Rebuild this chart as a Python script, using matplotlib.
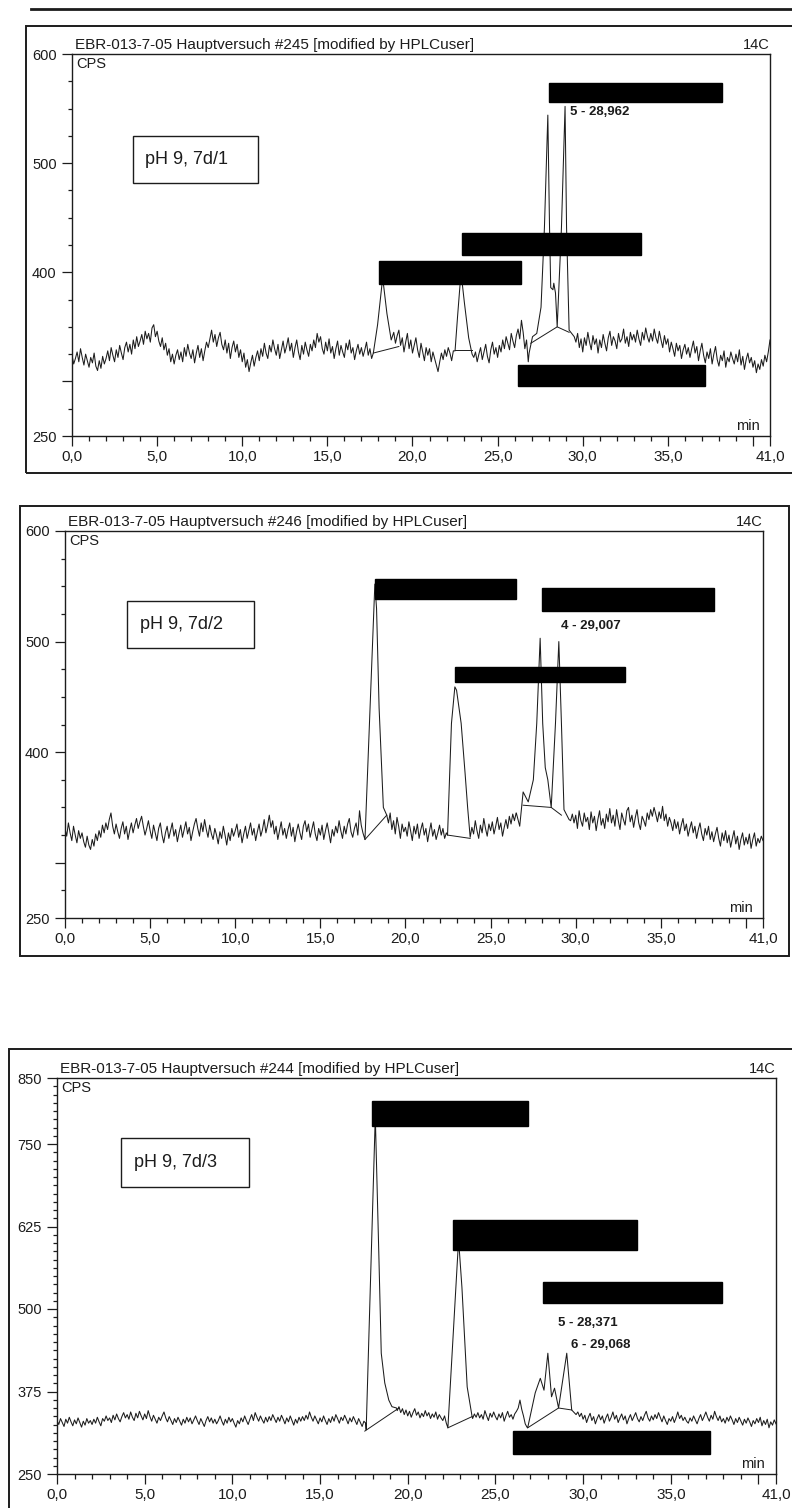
import numpy as np
import matplotlib.pyplot as plt
from matplotlib.patches import Rectangle
from matplotlib.lines import Line2D
from matplotlib.ticker import MultipleLocator, FixedLocator, FixedFormatter

plt.rcParams['font.family'] = ['Liberation Sans', 'DejaVu Sans']

W, H = 792, 1508
INK = '#1c1c1c'

# sampling grid of the radio detector trace (min), one row of values per minute
t_grid = np.round(np.arange(0, 41.001, 0.1), 1)

# ---- run #245, pH 9, 7d/1 ----
noise_245 = [
    324, 316, 321, 327, 318, 330, 322, 315, 325, 319,
    313, 322, 317, 326, 314, 310, 319, 312, 323, 316,
    321, 328, 319, 331, 324, 318, 329, 322, 333, 326,
    320, 331, 336, 327, 334, 325, 338, 330, 341, 332,
    337, 343, 334, 346, 339, 344, 336, 349, 352, 341,
    346, 337, 332, 340, 329, 335, 324, 330, 318, 325,
    316, 324, 329, 320, 327, 318, 331, 323, 334, 326,
    321, 329, 317, 326, 333, 322, 330, 319, 328, 336,
    331, 339, 347, 336, 343, 332, 340, 345, 334, 329,
    338, 326, 335, 321, 331, 337, 327, 334, 322, 329,
    318, 326, 313, 320, 309, 317, 324, 314, 322, 328,
    319, 330, 323, 335, 326, 321, 333, 327, 338, 330,
    324, 334, 321, 329, 337, 326, 332, 340, 328, 335,
    322, 331, 338, 327, 320, 333, 325, 336, 329, 323,
    334, 328, 338, 331, 344, 336, 341, 330, 325, 336,
    328, 339, 326, 332, 321, 330, 337, 324, 333, 327,
    322, 335, 329, 338, 326, 331, 320, 328, 334, 325,
    331, 323, 329, 336, 324, 330, 321, 327, 326, 330,
    340, 355, 370, 390, 380, 360, 345, 335, 338, 340,
    335, 342, 347, 333, 340, 327, 336, 344, 330, 338,
    326, 333, 340, 329, 322, 335, 327, 319, 331, 324,
    330, 318, 327, 321, 315, 309, 318, 326, 320, 329,
    323, 331, 326, 319, 328, 332, 340, 380, 390, 350,
    340, 330, 335, 330, 328, 322, 322, 327, 318, 325,
    331, 320, 327, 334, 323, 317, 329, 336, 325, 331,
    322, 333, 327, 338, 330, 341, 335, 329, 344, 337,
    331, 342, 348, 339, 356, 345, 330, 338, 318, 330,
    340, 345, 350, 360, 380, 440, 540, 440, 390, 385,
    385, 390, 380, 350, 420, 550, 440, 350, 345, 340,
    350, 345, 340, 338, 335, 341, 336, 344, 331, 339,
    327, 340, 333, 345, 336, 329, 342, 334, 339, 326,
    338, 331, 343, 335, 328, 340, 346, 333, 341, 337,
    330, 344, 336, 339, 348, 335, 341, 332, 345, 338,
    343, 336, 347, 339, 333, 345, 338, 349, 341, 336,
    344, 337, 348, 340, 335, 346, 338, 331, 342, 334,
    339, 327, 336, 330, 323, 335, 328, 333, 321, 329,
    334, 325, 331, 322, 330, 337, 326, 332, 319, 328,
    335, 324, 317, 327, 321, 330, 316, 325, 332, 320,
    314, 324, 319, 328, 313, 322, 318, 327, 321, 316,
    325, 318, 329, 315, 323, 311, 320, 326, 317, 322,
    313, 319, 308, 316, 311, 320, 314, 324, 318, 327,
    338,
]
peaks_245 = [
    ([17.7, 17.95, 18.25, 18.5, 18.75, 18.9], [326, 352, 395, 362, 338, 345]),
    ([22.5, 22.65, 22.85, 23.05, 23.3, 23.5], [328, 360, 400, 372, 340, 325]),
    ([26.85, 27.05, 27.3, 27.55, 27.75, 27.95, 28.05, 28.12, 28.25, 28.3,
      28.4, 28.5, 28.75, 28.962, 29.05, 29.2, 29.5],
     [326, 341, 344, 368, 441, 544, 441, 386, 384, 390,
      381, 350, 441, 552, 441, 347, 341]),
]
base_245 = [([17.7, 19.2], [326, 332]), ([22.5, 23.5], [329, 329]),
            ([26.95, 28.5, 29.2], [335, 350, 345])]
black_245 = [(28.0, 38.2, 556, 573), (22.9, 33.4, 416, 436),
             (18.05, 26.4, 389, 410), (26.2, 37.2, 296, 315)]
marks_245 = [(29.25, 547, '5 - 28,962')]

# ---- run #246, pH 9, 7d/2 ----
noise_246 = [
    331, 324, 336, 327, 320, 333, 325, 318, 329, 322,
    327, 319, 314, 324, 316, 312, 321, 315, 326, 320,
    329, 323, 334, 327, 336, 330, 339, 345, 333, 326,
    335, 328, 322, 331, 337, 326, 333, 321, 329, 336,
    327, 334, 340, 331, 337, 342, 333, 325, 331, 338,
    329, 322, 334, 327, 320, 331, 336, 325, 318, 327,
    333, 322, 329, 336, 324, 330, 319, 327, 334, 323,
    330, 337, 326, 332, 320, 328, 335, 340, 331, 324,
    336, 328, 339, 330, 323, 334, 326, 321, 331, 325,
    317, 328, 322, 333, 325, 316, 327, 320, 331, 324,
    329, 335, 323, 330, 318, 326, 333, 322, 329, 336,
    325, 331, 320, 328, 335, 324, 330, 339, 327, 334,
    343, 332, 338, 326, 333, 321, 329, 337, 325, 331,
    322, 330, 336, 324, 332, 319, 328, 335, 327, 321,
    333, 338, 328, 335, 323, 330, 337, 326, 320, 331,
    325, 334, 321, 329, 336, 327, 318, 330, 324, 333,
    327, 338, 329, 322, 333, 326, 335, 340, 328, 323,
    331, 336, 325, 347, 334, 327, 322, 330, 340, 350,
    400, 450, 550, 520, 440, 400, 360, 350, 345, 343,
    336, 345, 330, 338, 326, 341, 333, 322, 335, 328,
    332, 324, 337, 329, 320, 333, 326, 335, 322, 330,
    336, 325, 331, 319, 328, 336, 324, 330, 321, 327,
    334, 325, 331, 322, 327, 340, 400, 450, 459, 456,
    440, 426, 410, 381, 370, 360, 350, 340, 323, 332,
    326, 338, 329, 322, 334, 327, 340, 331, 324, 335,
    329, 337, 326, 333, 341, 330, 336, 324, 332, 339,
    331, 342, 335, 344, 338, 345, 333, 364, 355, 375,
    380, 400, 426, 460, 503, 460, 426, 400, 386, 380,
    375, 360, 350, 380, 426, 460, 500, 460, 426, 400,
    380, 360, 348, 343, 340, 339, 341, 338, 344, 336,
    343, 331, 347, 338, 333, 345, 337, 341, 330, 346,
    336, 342, 329, 339, 347, 334, 340, 331, 344, 337,
    349, 336, 343, 333, 348, 338, 330, 345, 339, 334,
    347, 350, 337, 343, 332, 341, 348, 336, 330, 342,
    338, 333, 345, 339, 348, 342, 350, 344, 337, 346,
    340, 351, 338, 344, 333, 341, 336, 329, 339, 331,
    337, 326, 334, 340, 329, 335, 324, 331, 337, 327,
    333, 322, 330, 336, 326, 320, 331, 325, 333, 321,
    328, 319, 326, 332, 322, 315, 327, 320, 329, 318,
    325, 314, 322, 329, 317, 324, 312, 321, 327, 316,
    323, 317, 326, 313, 321, 327, 315, 322, 318, 324,
    320,
]
peaks_246 = [
    ([17.62, 18.2, 18.3, 18.45, 18.7, 18.9], [321, 552, 530, 440, 350, 343]),
    ([22.47, 22.7, 22.9, 23.0, 23.27, 23.5, 23.65, 23.8],
     [325, 426, 459, 456, 426, 381, 350, 323]),
    ([26.51, 26.71, 26.91, 27.21, 27.51, 27.71, 27.91, 28.06, 28.21, 28.36,
      28.56, 28.81, 29.007, 29.16, 29.31, 29.61],
     [345, 333, 364, 355, 375, 426, 503, 426, 386, 375,
      350, 426, 500, 426, 348, 339]),
]
base_246 = [([17.62, 18.9], [321, 343]), ([22.47, 23.8], [325, 322]),
            ([26.91, 28.56, 29.16], [352, 350, 343])]
black_246 = [(18.2, 26.5, 538.5, 557), (28.0, 38.1, 528, 548.5),
             (22.9, 32.9, 463, 477)]
marks_246 = [(29.15, 514, '4 - 29,007')]

# ---- run #244, pH 9, 7d/3 ----
noise_244 = [
    331, 325, 334, 328, 322, 333, 327, 336, 329, 323,
    332, 326, 335, 328, 321, 330, 324, 334, 327, 331,
    325, 333, 327, 336, 329, 323, 334, 330, 338, 331,
    335, 328, 339, 332, 341, 334, 329, 337, 343, 335,
    340, 333, 344, 336, 331, 342, 335, 345, 338, 332,
    341, 334, 346, 337, 330, 339, 333, 327, 336, 331,
    338, 344, 335, 329, 337, 331, 325, 334, 328, 336,
    330, 324, 333, 327, 336, 329, 335, 326, 332, 338,
    331, 325, 334, 328, 322, 331, 337, 329, 335, 327,
    333, 326, 331, 338, 330, 324, 333, 327, 336, 329,
    334, 327, 321, 331, 326, 335, 329, 338, 331, 325,
    333, 340, 331, 343, 336, 330, 338, 332, 327, 336,
    329, 337, 331, 340, 334, 328, 336, 330, 339, 333,
    326, 335, 329, 338, 331, 324, 333, 327, 336, 330,
    337, 331, 339, 333, 344, 336, 330, 338, 332, 326,
    335, 329, 338, 331, 325, 334, 328, 337, 330, 340,
    334, 327, 336, 331, 339, 333, 326, 335, 329, 337,
    331, 325, 334, 328, 322, 330, 327, 330, 335, 340,
    500, 780, 600, 450, 400, 380, 365, 360, 356, 352,
    350, 352, 348, 350, 346, 352, 343, 349, 340, 347,
    338, 345, 336, 343, 349, 339, 344, 335, 342, 337,
    346, 338, 343, 334, 341, 336, 344, 333, 340, 335,
    331, 338, 327, 400, 500, 560, 600, 500, 450, 400,
    520, 460, 420, 380, 360, 345, 337, 334, 341, 336,
    343, 335, 340, 333, 346, 338, 331, 342, 336, 344,
    337, 332, 341, 335, 343, 330, 338, 345, 336, 340,
    333, 341, 345, 350, 362, 348, 338, 326, 321, 340,
    373, 380, 395, 390, 377, 400, 433, 400, 370, 367,
    380, 370, 367, 375, 380, 370, 350, 380, 420, 433,
    433, 400, 370, 347, 345, 342, 340, 344, 337, 342,
    333, 339, 328, 336, 342, 331, 337, 326, 334, 340,
    332, 338, 327, 335, 341, 330, 336, 344, 333, 339,
    328, 335, 341, 332, 338, 326, 334, 340, 331, 337,
    343, 334, 329, 337, 331, 339, 345, 335, 330, 338,
    332, 340, 334, 343, 336, 329, 338, 331, 325, 334,
    330, 337, 328, 335, 344, 334, 339, 331, 336, 330,
    327, 335, 330, 338, 332, 326, 334, 340, 331, 337,
    344, 336, 330, 339, 333, 345, 337, 331, 338, 329,
    334, 327, 336, 330, 338, 332, 325, 334, 328, 336,
    330, 324, 333, 327, 335, 329, 322, 331, 326, 334,
    328, 336, 323, 331, 325, 333, 320, 329, 324, 332,
    326,
]
peaks_244 = [
    ([17.63, 18.15, 18.35, 18.49, 18.69, 18.92, 19.1, 19.36],
     [317, 792, 585, 433, 388, 362, 352, 350]),
    ([22.29, 22.9, 23.09, 23.24, 23.39, 23.67], [320, 605, 533, 458, 382, 337]),
    ([26.84, 27.27, 27.56, 27.77, 27.99, 28.2, 28.371, 28.6, 29.068, 29.35, 29.6],
     [320, 373, 395, 377, 433, 367, 380, 350, 433, 347, 340]),
]
base_244 = [([17.55, 19.5], [315, 350]), ([22.29, 23.67], [320, 337]),
            ([26.84, 28.6, 29.35], [320, 350, 347])]
black_244 = [(17.96, 26.85, 777, 815), (22.58, 33.07, 589, 635),
             (27.71, 37.91, 509, 541), (26.0, 37.23, 280, 315)]
marks_244 = [(28.56, 479, '5 - 28,371'), (29.29, 445, '6 - 29,068')]

x_major = [0, 5, 10, 15, 20, 25, 30, 35, 40, 41]
x_labels = ['0,0', '5,0', '10,0', '15,0', '20,0', '25,0', '30,0', '35,0', '', '41,0']

panels = [
    dict(run='#245', sample='pH 9, 7d/1', noise=noise_245, peaks=peaks_245,
         base=base_245, black=black_245, marks=marks_245,
         ylim=(250, 600), ymajor=[250, 300, 400, 500, 600],
         ylabels=['250', '', '400', '500', '600'], yminor=25,
         ax_px=(72, 54, 770, 436), box=(0.087, 0.662, 0.266, 0.785),
         frame=(26, 26, 800, 473)),
    dict(run='#246', sample='pH 9, 7d/2', noise=noise_246, peaks=peaks_246,
         base=base_246, black=black_246, marks=marks_246,
         ylim=(250, 600), ymajor=[250, 300, 400, 500, 600],
         ylabels=['250', '', '400', '500', '600'], yminor=25,
         ax_px=(65, 531, 763, 918), box=(0.089, 0.698, 0.271, 0.819),
         frame=(20, 506, 789, 956)),
    dict(run='#244', sample='pH 9, 7d/3', noise=noise_244, peaks=peaks_244,
         base=base_244, black=black_244, marks=marks_244,
         ylim=(250, 850), ymajor=[250, 375, 500, 625, 750, 850],
         ylabels=['250', '375', '500', '625', '750', '850'], yminor=12.5,
         ax_px=(57, 1078, 776, 1474), box=(0.089, 0.725, 0.267, 0.848),
         frame=(9, 1049, 800, 1530)),
]


def merge_trace(noise, peaks):
    t = t_grid
    y = np.asarray(noise, float)
    keep = np.ones(len(t), bool)
    for pt, py in peaks:
        keep &= ~((t >= pt[0]) & (t <= pt[-1]))
    ts = np.concatenate([t[keep]] + [np.asarray(pt, float) for pt, _ in peaks])
    ys = np.concatenate([y[keep]] + [np.asarray(py, float) for _, py in peaks])
    order = np.argsort(ts)
    return ts[order], ys[order]


fig = plt.figure(figsize=(W / 100, H / 100), dpi=100)
fig.patch.set_facecolor('white')

# rule at the head of the page
fig.add_artist(Line2D([31 / W, 1.0], [1 - 9 / H, 1 - 9 / H],
                      transform=fig.transFigure, color=INK, lw=2.0))

for p in panels:
    fx0, fy0, fx1, fy1 = p['frame']
    fig.add_artist(Rectangle((fx0 / W, 1 - fy1 / H), (fx1 - fx0) / W, (fy1 - fy0) / H,
                             transform=fig.transFigure, fill=False,
                             edgecolor=INK, lw=1.4))

    l, t, r, b = p['ax_px']
    ax = fig.add_axes([l / W, 1 - b / H, (r - l) / W, (b - t) / H])

    ts, ys = merge_trace(p['noise'], p['peaks'])
    ax.plot(ts, ys, color=INK, lw=0.75, zorder=3)
    for bt, by in p['base']:
        ax.plot(bt, by, color=INK, lw=0.7, zorder=3)
    for x0, x1, y0, y1 in p['black']:
        ax.add_patch(Rectangle((x0, y0), x1 - x0, y1 - y0, facecolor='black',
                               edgecolor='black', zorder=6))
    for mx, my, txt in p['marks']:
        ax.text(mx, my, txt, fontsize=9.5, fontweight='bold', color=INK,
                ha='left', va='center', zorder=7)

    ax.set_xlim(0, 41)
    ax.set_ylim(*p['ylim'])
    for s in ax.spines.values():
        s.set_color(INK)
        s.set_linewidth(1.0)

    ax.xaxis.set_major_locator(FixedLocator(x_major))
    ax.xaxis.set_major_formatter(FixedFormatter(x_labels))
    ax.xaxis.set_minor_locator(MultipleLocator(1))
    ax.yaxis.set_major_locator(FixedLocator(p['ymajor']))
    ax.yaxis.set_major_formatter(FixedFormatter(p['ylabels']))
    ax.yaxis.set_minor_locator(MultipleLocator(p['yminor']))
    ax.tick_params(which='both', colors=INK, direction='out', width=0.9,
                   top=False, right=False)
    ax.tick_params(axis='x', which='major', length=7, pad=3, labelsize=11)
    ax.tick_params(axis='x', which='minor', length=3.5)
    ax.tick_params(axis='y', which='major', length=7, pad=4, labelsize=10.5)
    ax.tick_params(axis='y', which='minor', length=3)

    ax.text(0.004, 1.006, 'EBR-013-7-05 Hauptversuch ' + p['run'] + ' [modified by HPLCuser]',
            transform=ax.transAxes, ha='left', va='bottom', fontsize=11, color=INK)
    ax.text(1.0, 1.006, '14C', transform=ax.transAxes, ha='right', va='bottom',
            fontsize=10.5, color=INK)
    ax.text(0.006, 0.992, 'CPS', transform=ax.transAxes, ha='left', va='top',
            fontsize=10.5, color=INK)
    ax.text(0.985, 0.008, 'min', transform=ax.transAxes, ha='right', va='bottom',
            fontsize=10.5, color=INK)

    bx0, by0, bx1, by1 = p['box']
    ax.add_patch(Rectangle((bx0, by0), bx1 - bx0, by1 - by0, transform=ax.transAxes,
                           fill=False, edgecolor=INK, lw=1.0, zorder=4))
    ax.text(bx0 + 0.1 * (bx1 - bx0), (by0 + by1) / 2, p['sample'], transform=ax.transAxes,
            ha='left', va='center', fontsize=13, color=INK, zorder=4)

fig.savefig('out.png', dpi=100, facecolor='white')
